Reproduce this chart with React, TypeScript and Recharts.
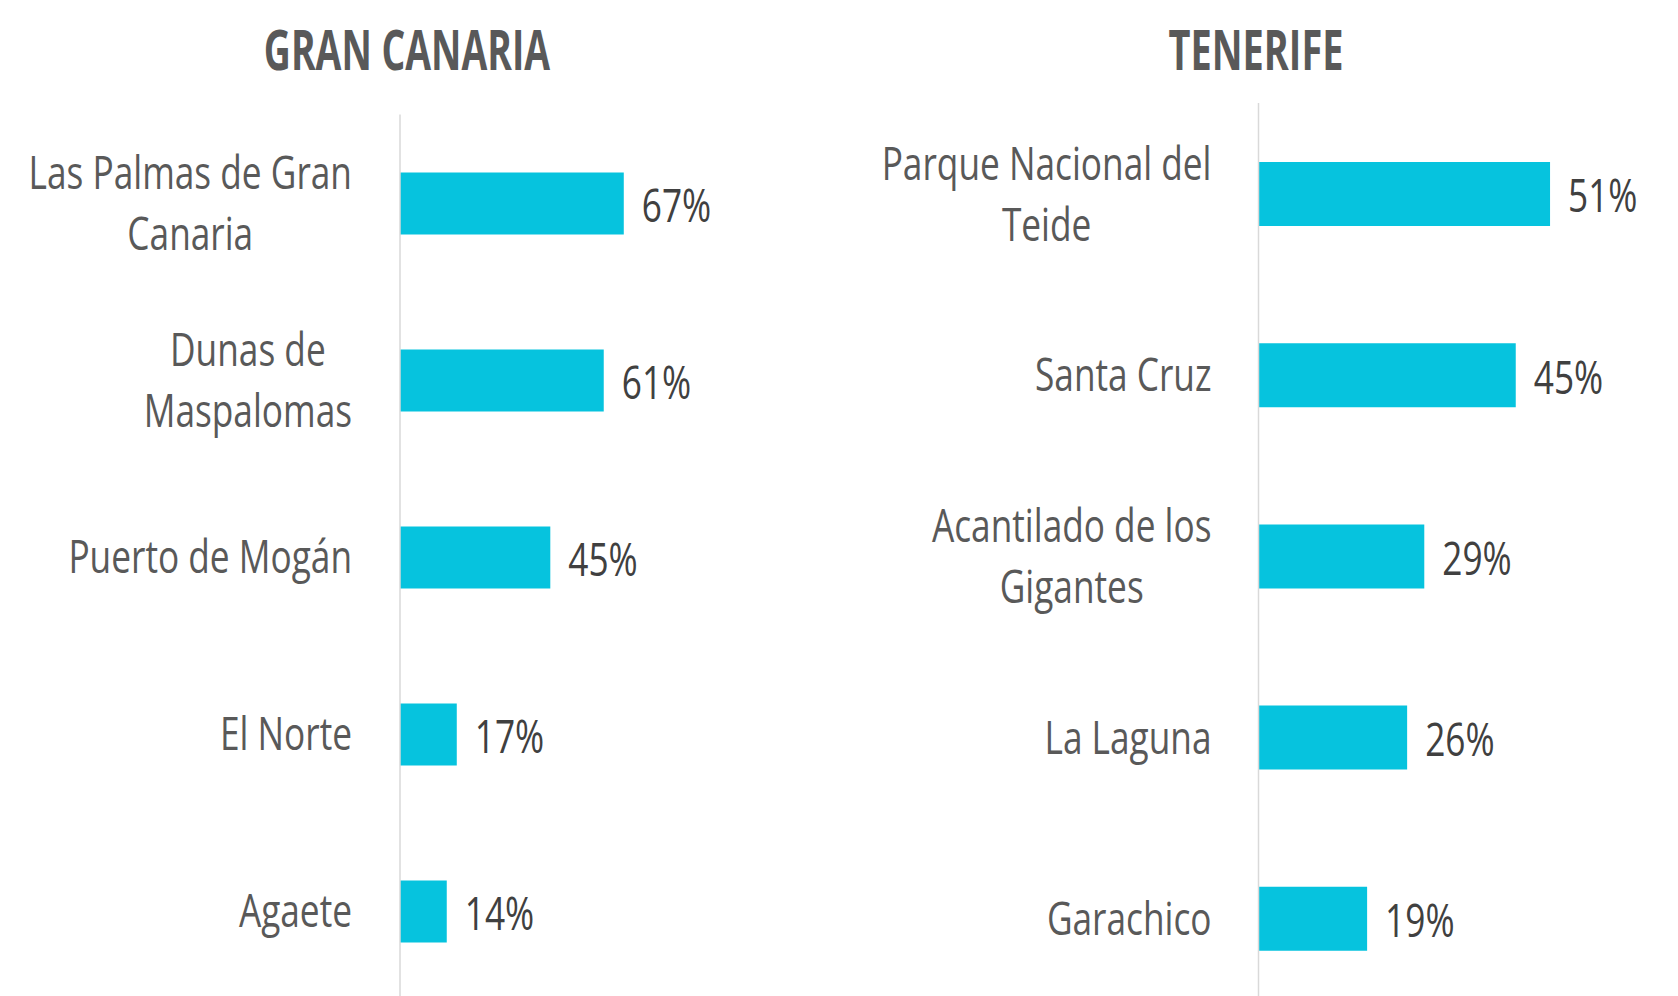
import React from 'react';
import { BarChart, Bar, XAxis, YAxis, LabelList } from 'recharts';

const granCanariaPlaces = ['Las Palmas de Gran\nCanaria', 'Dunas de\nMaspalomas', 'Puerto de Mogán', 'El Norte', 'Agaete'];
const granCanariaValues = [67, 61, 45, 17, 14];
const tenerifePlaces = ['Parque Nacional del\nTeide', 'Santa Cruz', 'Acantilado de los\nGigantes', 'La Laguna', 'Garachico'];
const tenerifeValues = [51, 45, 29, 26, 19];
const titles = ['GRAN CANARIA', 'TENERIFE'];

const BAR_COLOR = '#06C3DE';
const CAT_COLOR = '#595959';
const VAL_COLOR = '#404040';
const AXIS_COLOR = '#D9D9D9';
const FONT = '"Open Sans", "Noto Sans", sans-serif';
const LABEL_SIZE = 46;
const SX = 0.766;
const LINE_H = 61;
const CAP = 0.714;

let ctx: CanvasRenderingContext2D | null = null;
function measure(text: string, size: number, weight = 400): number {
  if (!ctx) {
    const c = document.createElement('canvas');
    ctx = c.getContext('2d');
  }
  if (!ctx) return text.length * size * 0.5;
  ctx.font = `${weight} ${size}px ${FONT}`;
  return ctx.measureText(text).width;
}

const makeTick = (gap: number) => (props: any) => {
  const { x, y, payload } = props;
  const lines: string[] = String(payload.value).split('\n');
  const blockW = Math.max(...lines.map((l) => measure(l, LABEL_SIZE))) * SX;
  const cx = x - gap - blockW / 2;
  const firstCenter = y - ((lines.length - 1) * LINE_H) / 2;
  return (
    <g transform={`translate(${cx},0) scale(${SX},1)`}>
      {lines.map((l, i) => (
        <text
          key={i}
          x={0}
          y={firstCenter + i * LINE_H + (LABEL_SIZE * CAP) / 2}
          textAnchor="middle"
          fill={CAT_COLOR}
          fontSize={LABEL_SIZE}
          fontFamily={FONT}
        >
          {l}
        </text>
      ))}
    </g>
  );
};

const valueLabel = (props: any) => {
  const { x, y, width, height, value } = props;
  const tx = Number(x) + Number(width) + 18;
  const ty = Number(y) + Number(height) / 2 + (LABEL_SIZE * CAP) / 2 + 2;
  return (
    <g transform={`translate(${tx},0) scale(${SX},1)`}>
      <text x={0} y={ty} textAnchor="start" fill={VAL_COLOR} fontSize={LABEL_SIZE} fontFamily={FONT}>
        {`${value}%`}
      </text>
    </g>
  );
};

function Panel(props: {
  places: string[];
  values: number[];
  width: number;
  height: number;
  margin: { top: number; right: number; bottom: number; left: number };
  axisWidth: number;
  domainMax: number;
  barSize: number;
  gap: number;
}) {
  const data = props.places.map((name, i) => ({ name, value: props.values[i] }));
  return (
    <BarChart layout="vertical" width={props.width} height={props.height} data={data} margin={props.margin}>
      <XAxis type="number" domain={[0, props.domainMax]} hide />
      <YAxis
        type="category"
        dataKey="name"
        width={props.axisWidth}
        interval={0}
        tickLine={false}
        tickSize={0}
        tickMargin={0}
        axisLine={{ stroke: AXIS_COLOR, strokeWidth: 1.5 }}
        tick={makeTick(props.gap)}
      />
      <Bar dataKey="value" fill={BAR_COLOR} barSize={props.barSize} isAnimationActive={false}>
        <LabelList dataKey="value" content={valueLabel} />
      </Bar>
    </BarChart>
  );
}

export default function App() {
  return (
    <div style={{ position: 'absolute', left: 0, top: 0, width: 1678, height: 996, overflow: 'hidden', background: '#fff' }}>
      <svg style={{ position: 'absolute', left: 0, top: 0 }} width={1678} height={100}>
        <g transform={`translate(407,0) scale(0.68,1)`}>
          <text x={0} y={70} textAnchor="middle" fill={CAT_COLOR} fontSize={55} fontWeight={700} fontFamily={FONT}>
            {titles[0]}
          </text>
        </g>
        <g transform={`translate(1256,0) scale(0.69,1)`}>
          <text x={0} y={70} textAnchor="middle" fill={CAT_COLOR} fontSize={55} fontWeight={700} fontFamily={FONT}>
            {titles[1]}
          </text>
        </g>
      </svg>
      <div style={{ position: 'absolute', left: 0, top: 0 }}>
        <Panel
          places={granCanariaPlaces}
          values={granCanariaValues}
          width={840}
          height={1010}
          margin={{ top: 114.5, right: 106, bottom: 10.5, left: 0 }}
          axisWidth={400}
          domainMax={100}
          barSize={62}
          gap={48}
        />
      </div>
      <div style={{ position: 'absolute', left: 840, top: 0 }}>
        <Panel
          places={tenerifePlaces}
          values={tenerifeValues}
          width={838}
          height={1015}
          margin={{ top: 103, right: 76.5, bottom: 6, left: 0 }}
          axisWidth={418.5}
          domainMax={60}
          barSize={64}
          gap={47}
        />
      </div>
    </div>
  );
}
